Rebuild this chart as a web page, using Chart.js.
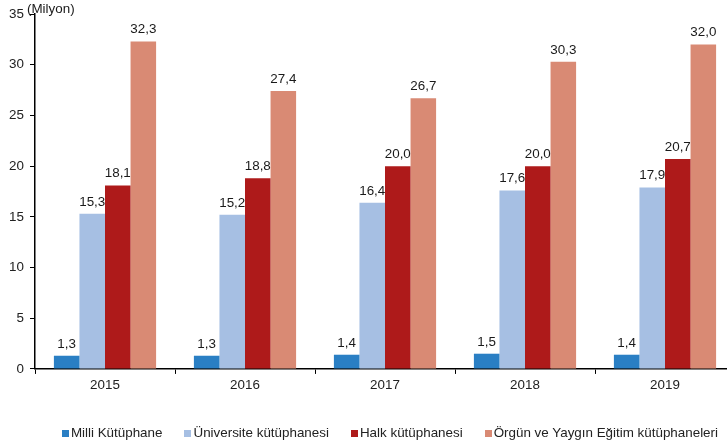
<!DOCTYPE html>
<html>
<head>
<meta charset="utf-8">
<script src="https://cdn.jsdelivr.net/npm/chart.js@4/dist/chart.umd.min.js"></script>
<style>
  html, body { margin: 0; padding: 0; background: #fff; overflow: hidden; }
  #wrap { position: relative; width: 735px; height: 447px; }
  #legend {
    position: absolute; left: 0; top: 425px; width: 718px;
    display: flex; justify-content: flex-end;
    font-family: "Liberation Sans", Arial, sans-serif; font-size: 13.4px; color: #222;
    line-height: 16px;
  }
  .item { display: inline-flex; align-items: center; margin-left: 22px; }
  .box { width: 7px; height: 7px; display: inline-block; margin-right: 2px; }
</style>
</head>
<body>
<div id="wrap">
  <canvas id="libChart"></canvas>
  <div id="legend"></div>
</div>
<script>
// veriler
const years = ['2015', '2016', '2017', '2018', '2019'];
const milli = [1.3, 1.3, 1.4, 1.5, 1.4];
const universite = [15.3, 15.2, 16.4, 17.6, 17.9];
const halk = [18.1, 18.8, 20.0, 20.0, 20.7];
const orgun = [32.3, 27.4, 26.7, 30.3, 32.0];
const yTicks = [0, 5, 10, 15, 20, 25, 30, 35];

const seriesNames = ['Milli Kütüphane', 'Üniversite kütüphanesi', 'Halk kütüphanesi', 'Örgün ve Yaygın Eğitim kütüphaneleri'];
const seriesData = [milli, universite, halk, orgun];
const colors = ['#2a7fc4', '#a6bfe3', '#ae1a1a', '#d98a74'];

const fontFamily = '"Liberation Sans", Arial, sans-serif';

// etiketleri çubukların üstüne yaz
const valueLabels = {
  id: 'valueLabels',
  afterDatasetsDraw(chart) {
    const ctx = chart.ctx;
    ctx.save();
    ctx.font = '13.4px ' + fontFamily;
    ctx.fillStyle = '#1a1a1a';
    ctx.textAlign = 'center';
    ctx.textBaseline = 'alphabetic';
    chart.data.datasets.forEach((ds, i) => {
      chart.getDatasetMeta(i).data.forEach((bar, j) => {
        const txt = ds.data[j].toFixed(1).replace('.', ',');
        ctx.fillText(txt, bar.x, bar.y - 8);
      });
    });
    // birim
    ctx.textAlign = 'left';
    ctx.fillText('(Milyon)', 27, 13);
    ctx.restore();
  }
};

const ctx = document.getElementById('libChart').getContext('2d');
new Chart(ctx, {
  type: 'bar',
  data: {
    labels: years,
    datasets: seriesData.map((d, i) => ({
      label: seriesNames[i],
      data: d,
      backgroundColor: colors[i],
      borderWidth: 0,
      categoryPercentage: 0.73,
      barPercentage: 1.0
    }))
  },
  options: {
    responsive: true,
    maintainAspectRatio: false,
    animation: false,
    layout: { padding: { top: 11, left: 0, right: 0, bottom: 51 } },
    plugins: {
      legend: { display: false },
      tooltip: { enabled: false }
    },
    scales: {
      x: {
        grid: { display: true, drawOnChartArea: false, color: '#000', tickLength: 5, offset: true },
        border: { display: true, color: '#000', width: 1.5 },
        ticks: { color: '#222', font: { family: fontFamily, size: 13.4 }, padding: 3 }
      },
      y: {
        min: 0,
        max: 35,
        afterBuildTicks: (axis) => { axis.ticks = yTicks.map(v => ({ value: v })); },
        afterFit: (axis) => { axis.width = 35; },
        grid: { display: true, drawOnChartArea: false, color: '#000', tickLength: 5 },
        border: { display: true, color: '#000', width: 1.5 },
        ticks: { color: '#222', font: { family: fontFamily, size: 13.4 }, padding: 6 }
      }
    }
  },
  plugins: [valueLabels]
});

// legend
const legend = document.getElementById('legend');
seriesNames.forEach((name, i) => {
  const item = document.createElement('div');
  item.className = 'item';
  const box = document.createElement('span');
  box.className = 'box';
  box.style.backgroundColor = colors[i];
  const text = document.createElement('span');
  text.innerText = name;
  item.appendChild(box);
  item.appendChild(text);
  legend.appendChild(item);
});
</script>
</body>
</html>
